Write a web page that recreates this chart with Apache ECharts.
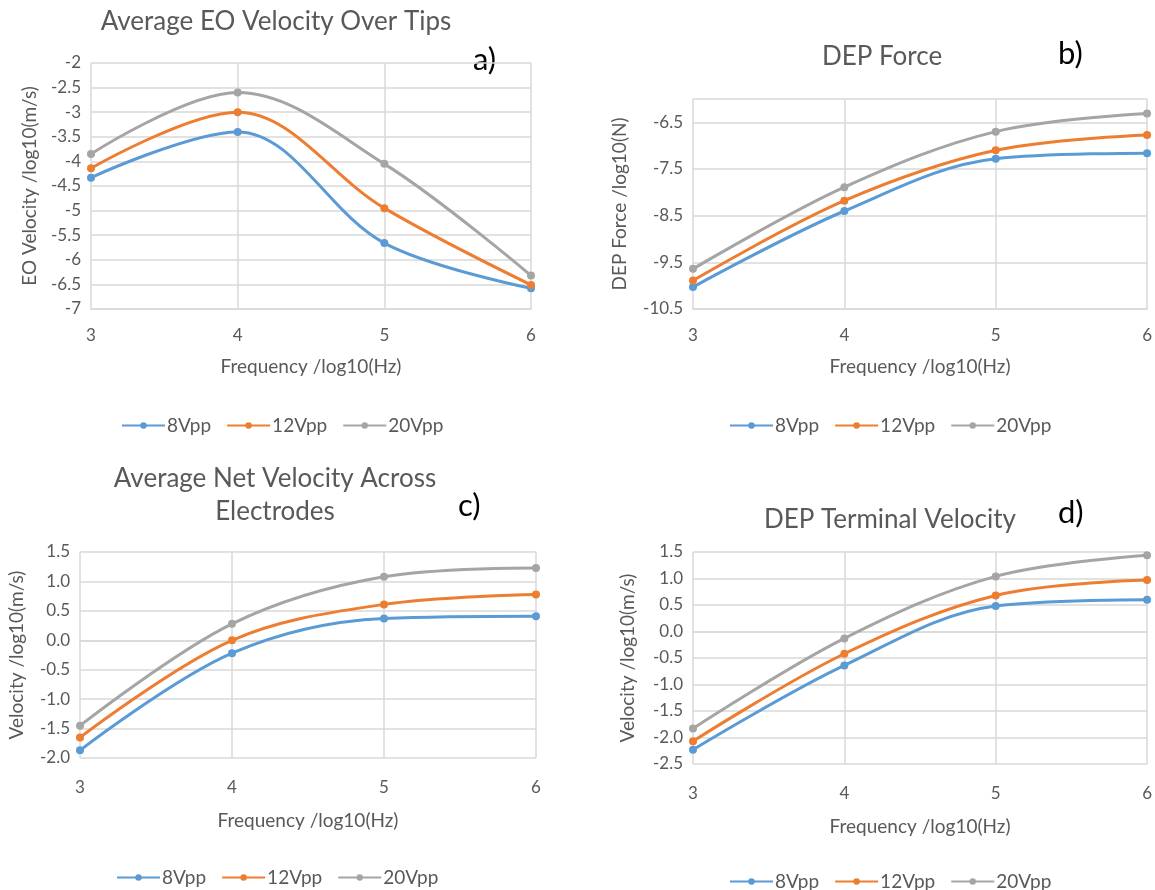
<!DOCTYPE html>
<html>
<head>
<meta charset="utf-8">
<script src="https://cdn.jsdelivr.net/npm/echarts@6/dist/echarts.min.js"></script>
<style>
  html, body { margin: 0; padding: 0; background: #ffffff; }
  #chart { width: 1155px; height: 890px; }
</style>
</head>
<body>
<div id="chart"></div>
<script>
// Frequency axis (log10 Hz) shared by all four panels
const freq = [3, 4, 5, 6];
const seriesNames = ['8Vpp', '12Vpp', '20Vpp'];
const seriesColors = ['#5B9BD5', '#ED7D31', '#A5A5A5'];

// a) Average EO velocity over tips, log10(m/s)
const eo8  = [-4.33, -3.40, -5.66, -6.58];
const eo12 = [-4.14, -3.00, -4.95, -6.51];
const eo20 = [-3.85, -2.60, -4.05, -6.32];

// b) DEP force, log10(N)
const dep8  = [-10.03, -8.40, -7.28, -7.16];
const dep12 = [-9.89, -8.18, -7.10, -6.77];
const dep20 = [-9.64, -7.89, -6.70, -6.31];

// c) Average net velocity across electrodes, log10(m/s)
const net8  = [-1.87, -0.22, 0.37, 0.41];
const net12 = [-1.65, 0.00, 0.61, 0.78];
const net20 = [-1.45, 0.28, 1.08, 1.23];

// d) DEP terminal velocity, log10(m/s)
const term8  = [-2.23, -0.64, 0.48, 0.60];
const term12 = [-2.07, -0.42, 0.68, 0.97];
const term20 = [-1.83, -0.13, 1.04, 1.44];

// Titles, panel tags and axis names
const panelTitles = ['Average EO Velocity Over Tips', 'DEP Force', 'Average Net Velocity Across\nElectrodes', 'DEP Terminal Velocity'];
const panelTags = ['a)', 'b)', 'c)', 'd)'];
const xName = 'Frequency /log10(Hz)';
const yNames = ['EO Velocity /log10(m/s)', 'DEP Force /log10(N)', 'Velocity /log10(m/s)', 'Velocity /log10(m/s)'];
const yRanges = [[-7, -2, 0.5], [-10.5, -6, 1], [-2, 1.5, 0.5], [-2.5, 1.5, 0.5]];

const panelData = [[eo8, eo12, eo20], [dep8, dep12, dep20], [net8, net12, net20], [term8, term12, term20]];

const FONT = 'Lato';
const GREY_TEXT = '#595959';
const GRID_LINE = '#d9d9d9';

// Layout of each panel (title anchors are text centres)
const layout = [
  { grid: { left: 91, top: 63, width: 440, height: 246 }, yGap: 52, xGap: 48, xMargin: 18, title: { x: 271, top: 0 }, tag: { x: 473, y: 44 }, legend: { left: 116, top: 411 } },
  { grid: { left: 693, top: 99, width: 455, height: 210 }, yGap: 64, xGap: 48, xMargin: 18, title: { x: 877, top: 35 }, tag: { x: 1058, y: 38 }, legend: { left: 724, top: 411 } },
  { grid: { left: 80, top: 552, width: 456, height: 206 }, yGap: 54, xGap: 53, xMargin: 21, title: { x: 270, top: 457 }, tag: { x: 458, y: 490 }, legend: { left: 111, top: 863 } },
  { grid: { left: 693, top: 552, width: 455, height: 212 }, yGap: 56, xGap: 53, xMargin: 21, title: { x: 885, top: 498 }, tag: { x: 1058, y: 497 }, legend: { left: 724, top: 867 } }
];

const grids = [], xAxes = [], yAxes = [], series = [], titles = [], legends = [], graphics = [];

layout.forEach((L, i) => {
  grids.push(Object.assign({}, L.grid));

  xAxes.push({
    type: 'value', gridIndex: i, min: 3, max: 6, interval: 1,
    name: xName, nameLocation: 'middle', nameGap: L.xGap,
    nameTextStyle: { fontFamily: FONT, fontSize: 19, color: GREY_TEXT },
    axisLine: { show: true, lineStyle: { color: GRID_LINE, width: 1.5 } },
    axisTick: { show: false },
    axisLabel: { fontFamily: FONT, fontSize: 17, color: GREY_TEXT, margin: L.xMargin },
    splitLine: { show: true, lineStyle: { color: GRID_LINE, width: 1.5 } }
  });

  const [mn, mx, step] = yRanges[i];
  yAxes.push({
    type: 'value', gridIndex: i, min: mn, max: mx, interval: step,
    name: yNames[i], nameLocation: 'middle', nameGap: L.yGap,
    nameTextStyle: { fontFamily: FONT, fontSize: 19, color: GREY_TEXT },
    axisLine: { show: false },
    axisTick: { show: false },
    axisLabel: {
      fontFamily: FONT, fontSize: 17, color: GREY_TEXT, margin: 10,
      showMaxLabel: i !== 1,
      formatter: v => (i >= 2 ? v.toFixed(1) : String(v))
    },
    splitLine: { show: true, lineStyle: { color: GRID_LINE, width: 1.5 } }
  });

  panelData[i].forEach((vals, k) => {
    series.push({
      name: seriesNames[k], type: 'line', xAxisIndex: i, yAxisIndex: i,
      data: freq.map((f, j) => [f, vals[j]]),
      smooth: 0.35,
      symbol: 'circle', symbolSize: 8,
      lineStyle: { color: seriesColors[k], width: 3 },
      itemStyle: { color: seriesColors[k] },
      emphasis: { disabled: true }
    });
  });

  titles.push({
    text: panelTitles[i], left: L.title.x, top: L.title.top, textAlign: 'center',
    textStyle: { fontFamily: FONT, fontSize: 26, fontWeight: 'normal', color: GREY_TEXT, lineHeight: 33 }
  });

  graphics.push({
    type: 'text', left: L.tag.x, top: L.tag.y,
    style: { text: panelTags[i], font: '31px ' + FONT, fill: '#000000' }
  });

  legends.push({
    data: seriesNames, left: L.legend.left, top: L.legend.top,
    itemWidth: 43, itemHeight: 8, itemGap: 15,
    textStyle: { fontFamily: FONT, fontSize: 19, color: GREY_TEXT, padding: [0, 0, 0, -3] }
  });
});

const chart = echarts.init(document.getElementById('chart'), null, { renderer: 'canvas' });
chart.setOption({
  backgroundColor: '#ffffff',
  animation: false,
  title: titles,
  legend: legends,
  grid: grids,
  xAxis: xAxes,
  yAxis: yAxes,
  series: series,
  graphic: graphics
});
</script>
</body>
</html>
